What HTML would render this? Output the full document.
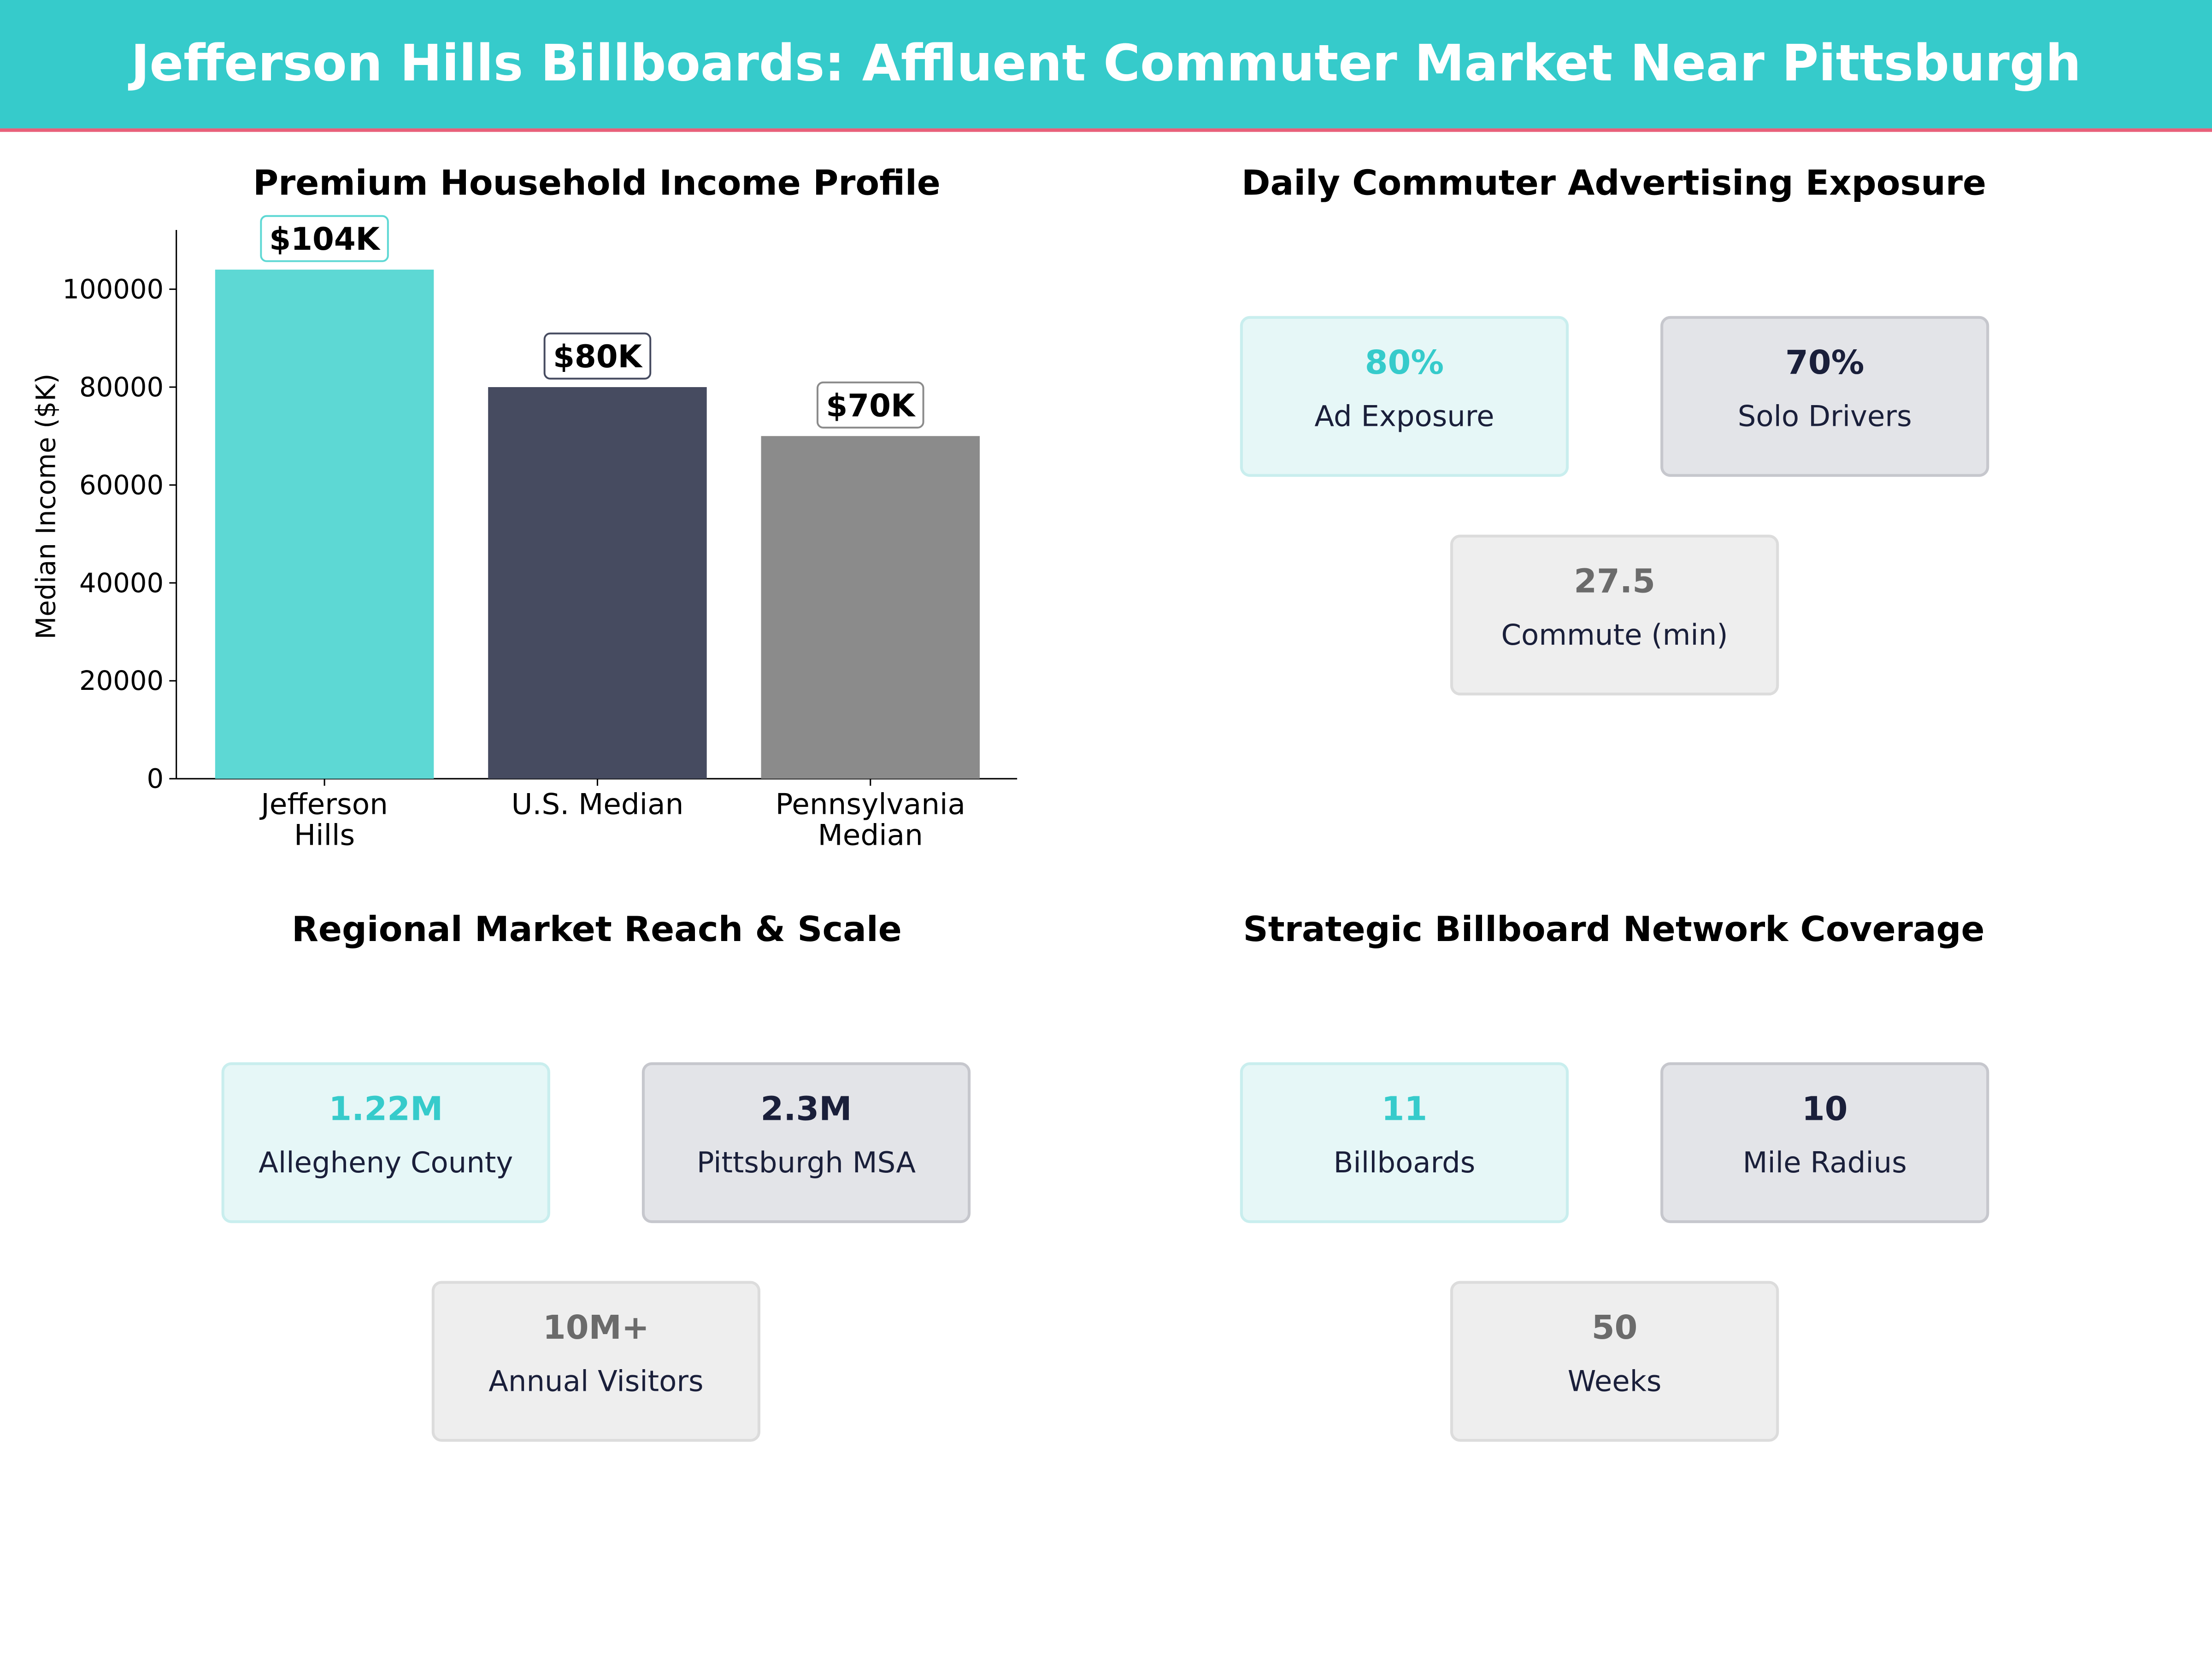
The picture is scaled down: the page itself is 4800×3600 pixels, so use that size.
<!DOCTYPE html>
<html><head><meta charset="utf-8"><style>html,body{margin:0;padding:0;background:#fff}svg{display:block}text{font-family:"DejaVu Sans","Liberation Sans",sans-serif}</style></head>
<body>
<svg id="root" width="4800" height="3600" viewBox="0 0 1568 1176" xmlns="http://www.w3.org/2000/svg">
<rect width="1568" height="1176" fill="#fff"/>
<rect width="1568" height="91" fill="#36CBCB"/>
<rect y="91" width="1568" height="2.5" fill="#E8607A"/>
<text x="784" y="57" text-anchor="middle" font-size="35.5" font-weight="bold" fill="#fff">Jefferson Hills Billboards: Affluent Commuter Market Near Pittsburgh</text>
<text x="423" y="138" text-anchor="middle" font-size="24.6" font-weight="bold">Premium Household Income Profile</text>
<text x="1144" y="138" text-anchor="middle" font-size="24.6" font-weight="bold">Daily Commuter Advertising Exposure</text>
<text x="423" y="667" text-anchor="middle" font-size="24.6" font-weight="bold">Regional Market Reach &amp; Scale</text>
<text x="1144" y="667" text-anchor="middle" font-size="24.6" font-weight="bold">Strategic Billboard Network Coverage</text>
<g id="chart"></g>
<g id="cards"></g>
</svg>
<script>
const categories = [["Jefferson","Hills"],["U.S. Median"],["Pennsylvania","Median"]];
const incomes = [104000, 80000, 70000];
const valueLabels = ["$104K","$80K","$70K"];
const barColors = ["#5DD8D4","#464B60","#8B8B8B"];
const labelBorders = ["#5DD8D4","#464B60","#8B8B8B"];
const yTicks = [0,20000,40000,60000,80000,100000];

const NS="http://www.w3.org/2000/svg";
function mk(tag, attrs, parent, txt){const e=document.createElementNS(NS,tag);for(const k in attrs)e.setAttribute(k,attrs[k]);if(txt!==undefined)e.textContent=txt;parent.appendChild(e);return e;}
const g=document.getElementById('chart');
const x0=125,x1=721,yBase=552,pxPer=(552-205)/100000;
const y=v=>yBase-v*pxPer;
const first=230;
const xc=i=>first+i*((617-230)/2);
const bw=155;
mk('line',{x1:x0,y1:163,x2:x0,y2:yBase,stroke:'#000','stroke-width':1},g);
mk('line',{x1:x0,y1:yBase,x2:x1,y2:yBase,stroke:'#000','stroke-width':1},g);
yTicks.forEach(t=>{
  mk('line',{x1:x0-5,y1:y(t),x2:x0,y2:y(t),stroke:'#000'},g);
  const tx=mk('text',{x:x0-9,y:y(t)+6.5,'text-anchor':'end','font-size':18.8},g,String(t));
  
  
});
const yl=mk('text',{transform:'translate(39,359) rotate(-90)','text-anchor':'middle','font-size':18.8},g,'Median Income ($K)');


incomes.forEach((v,i)=>{
  const b=mk('rect',{x:xc(i)-bw/2,y:y(v),width:bw,height:yBase-y(v),fill:barColors[i]},g);
  
  
  mk('line',{x1:xc(i),y1:yBase,x2:xc(i),y2:yBase+5,stroke:'#000'},g);
  categories[i].forEach((ln,j)=>{
    const t=mk('text',{x:xc(i),y:yBase+25+j*22,'text-anchor':'middle','font-size':20.5},g,ln);
    
    
  });
  const w=valueLabels[i].length*15+15;
  const ly=y(v)-38;
  const r=mk('rect',{x:xc(i)-w/2,y:ly,width:w,height:32,rx:4,fill:'#fff',stroke:labelBorders[i],'stroke-width':1.3},g);
  
  
  const t=mk('text',{x:xc(i),y:ly+24,'text-anchor':'middle','font-size':22,'font-weight':'bold'},g,valueLabels[i]);
  
  
});
const styles={teal:['#E6F7F7','#C9EEEE','#36CBCB'],navy:['#E3E4E8','#C6C7CD','#1A1F3A'],grey:['#EEEEEE','#DCDCDC','#6B6B6B']};
const cards=[
 [880,225,'teal','80%','Ad Exposure'],[1178,225,'navy','70%','Solo Drivers'],[1029,380,'grey','27.5','Commute (min)'],
 [158,754,'teal','1.22M','Allegheny County'],[456,754,'navy','2.3M','Pittsburgh MSA'],[307,909,'grey','10M+','Annual Visitors'],
 [880,754,'teal','11','Billboards'],[1178,754,'navy','10','Mile Radius'],[1029,909,'grey','50','Weeks']];
const cg=document.getElementById('cards');
cards.forEach(c=>{
  const [x,yy,s,val,lab]=c, st=styles[s];
  const gr=mk('g',{},cg);
  
  
  mk('rect',{x:x,y:yy,width:231,height:112,rx:6,fill:st[0],stroke:st[1],'stroke-width':2},gr);
  const v=mk('text',{x:x+115.5,y:yy+40,'text-anchor':'middle','font-size':23.4,'font-weight':'bold',fill:st[2]},gr,val);
  
  
  const l=mk('text',{x:x+115.5,y:yy+77,'text-anchor':'middle','font-size':20.4,fill:'#1A1F3A'},gr,lab);
  
  
});
</script>
</body></html>
